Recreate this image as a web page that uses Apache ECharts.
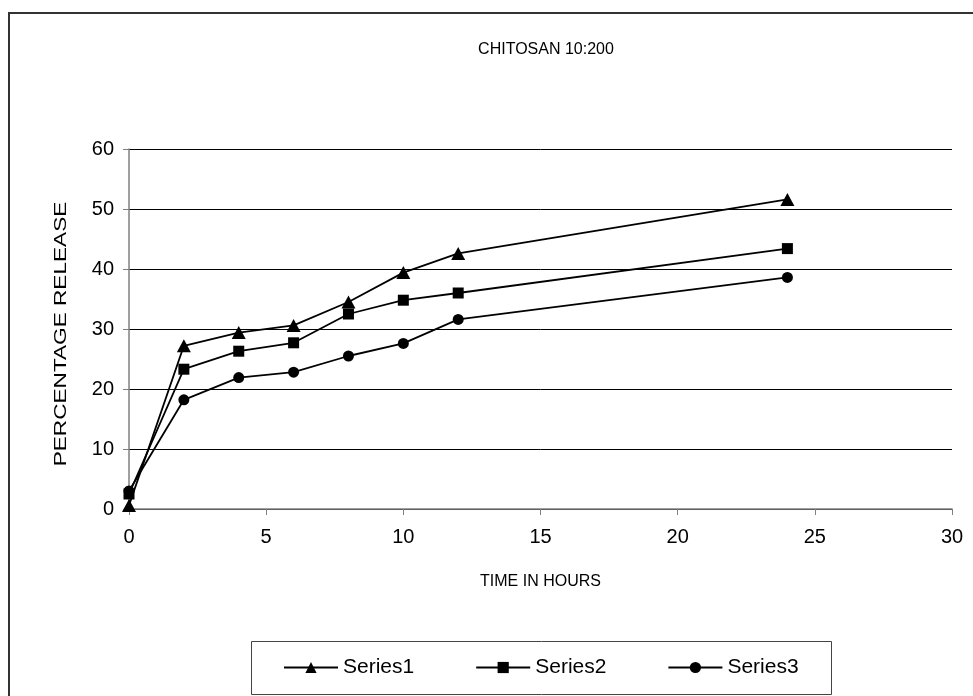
<!DOCTYPE html>
<html>
<head>
<meta charset="utf-8">
<script src="https://cdn.jsdelivr.net/npm/echarts@6/dist/echarts.min.js"></script>
<style>
html,body{margin:0;padding:0;background:#fff;}
#chart{width:973px;height:696px;}
</style>
</head>
<body>
<div id="chart"></div>
<script>
var timeHours = [0, 2, 4, 6, 8, 10, 12, 24];
var series1 = [0.6, 27.2, 29.4, 30.6, 34.5, 39.4, 42.6, 51.6];
var series2 = [2.5, 23.3, 26.3, 27.7, 32.5, 34.8, 36.0, 43.4];
var series3 = [3.0, 18.2, 21.9, 22.8, 25.5, 27.6, 31.6, 38.6];
var seriesNames = ['Series1', 'Series2', 'Series3'];
var xTicks = [0, 5, 10, 15, 20, 25, 30];
var yTicks = [0, 10, 20, 30, 40, 50, 60];
var chartTitle = 'CHITOSAN 10:200';
var xName = 'TIME IN HOURS';
var yName = 'PERCENTAGE RELEASE';

function pairs(xs, ys) { return xs.map(function (x, i) { return [x, ys[i]]; }); }

var font = '"Liberation Sans", Arial, sans-serif';
var chart = echarts.init(document.getElementById('chart'), null, {renderer: 'canvas'});

function mkSeries(name, data, symbol, size) {
  return {
    name: name, type: 'line', data: data, symbol: symbol, symbolSize: size,
    showAllSymbol: true,
    lineStyle: {color: '#000', width: 1.8},
    itemStyle: {color: '#000', borderWidth: 0},
    emphasis: {disabled: true},
    animation: false
  };
}

chart.setOption({
  animation: false,
  backgroundColor: '#fff',
  textStyle: {fontFamily: font},
  title: {
    text: chartTitle, left: 541, top: 37, textAlign: 'center',
    textStyle: {fontFamily: font, fontSize: 16, fontWeight: 'normal', color: '#000'}
  },
  graphic: [
    {type: 'rect', shape: {x: 9, y: 13, width: 1200, height: 900}, style: {fill: 'none', stroke: '#333', lineWidth: 2}, silent: true, z: 100},
    {type: 'rect', shape: {x: 251.5, y: 641.5, width: 580, height: 53}, style: {fill: 'none', stroke: '#444', lineWidth: 1}, silent: true, z: 100},
    {type: 'text', x: 61, y: 334, rotation: Math.PI / 2, scaleX: 1.33, scaleY: 1,
      style: {text: yName, font: '17px ' + font, fill: '#000', textAlign: 'center', textVerticalAlign: 'middle'},
      silent: true, z: 100}
  ],
  legend: {
    data: seriesNames, left: 283, top: 657, padding: 0,
    itemWidth: 54, itemHeight: 14, itemGap: 61, itemTextGap: 7,
    textStyle: {fontFamily: font, fontSize: 21, color: '#000'},
    selectedMode: false
  },
  grid: {left: 129, right: 21, top: 149, bottom: 187, containLabel: false},
  xAxis: {
    type: 'value', min: xTicks[0], max: xTicks[xTicks.length - 1], interval: 5,
    name: xName, nameLocation: 'middle', nameGap: 65,
    nameTextStyle: {fontFamily: font, fontSize: 16, color: '#000'},
    axisLine: {show: true, lineStyle: {color: '#808080', width: 1.5}},
    axisTick: {show: true, length: 6, lineStyle: {color: '#808080'}},
    axisLabel: {fontFamily: font, fontSize: 20, color: '#000', margin: 18},
    splitLine: {show: false}
  },
  yAxis: {
    type: 'value', min: yTicks[0], max: yTicks[yTicks.length - 1], interval: 10,
    axisLine: {show: true, lineStyle: {color: '#808080', width: 1.5}},
    axisTick: {show: true, length: 6, lineStyle: {color: '#808080'}},
    axisLabel: {fontFamily: font, fontSize: 20, color: '#000', margin: 15},
    splitLine: {show: true, lineStyle: {color: '#000', width: 1}}
  },
  series: [
    mkSeries(seriesNames[0], pairs(timeHours, series1), 'triangle', [14, 13]),
    mkSeries(seriesNames[1], pairs(timeHours, series2), 'rect', 11),
    mkSeries(seriesNames[2], pairs(timeHours, series3), 'circle', 11)
  ]
});
</script>
</body>
</html>
